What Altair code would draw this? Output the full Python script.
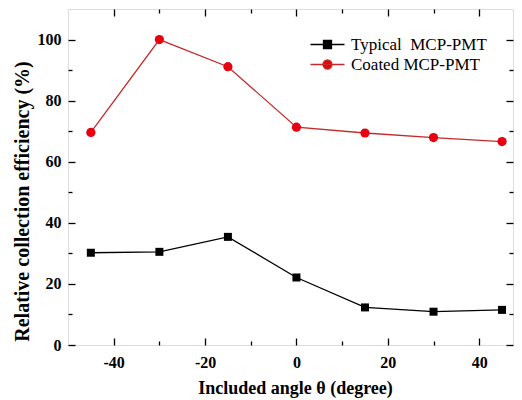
import altair as alt
import pandas as pd

# ---- data ----
angles = [-45, -30, -15, 0, 15, 30, 45]
typical = [30.2, 30.5, 35.4, 22.1, 12.3, 10.9, 11.5]
coated = [69.6, 100.0, 91.1, 71.3, 69.4, 67.9, 66.6]
series_names = ["Typical\u00a0 MCP-PMT", "Coated MCP-PMT"]
x_major = [-40, -20, 0, 20, 40]
x_minor = [-30, -10, 10, 30]
y_major = [0, 20, 40, 60, 80, 100]
y_minor = [10, 30, 50, 70, 90]
x_domain = [-50, 47.4]   # the reference frame is cropped just before +50
y_domain = [0, 110]
x_title = "Included angle θ (degree)"
y_title = "Relative collection efficiency (%)"

rows = []
for sid, vals in enumerate([typical, coated]):
    for a, v in zip(angles, vals):
        rows.append({"angle": a, "value": v, "series": series_names[sid], "sid": sid})
df = pd.DataFrame(rows)

FONT = "Liberation Serif"
LINE_RED = "#c42a2a"
MARK_RED = "#e8000f"

xs = alt.Scale(domain=x_domain, nice=False, zero=False)
ys = alt.Scale(domain=y_domain, nice=False, zero=False)


def make_axis(orient, values, size, labels=False, title=None, horizontal=True):
    kw = dict(orient=orient, values=values, tickSize=size, offset=-size,
              domain=False, grid=False, ticks=True, tickColor="black",
              tickWidth=1.3, labels=labels)
    if labels:
        kw.update(labelFont=FONT, labelFontSize=16, labelFontWeight="bold",
                  labelColor="black")
        if horizontal:
            kw.update(labelPadding=9,
                      labelExpr="datum.value < 0 ? '-' + abs(datum.value) : '' + datum.value")
        else:
            kw.update(labelPadding=7)
    if title:
        kw.update(title=title, titleFont=FONT, titleFontWeight="bold",
                  titleColor="black")
        if horizontal:
            kw.update(titleFontSize=18, titlePadding=9, titleX=227)
        else:
            kw.update(titleFontSize=20, titlePadding=5, titleY=192)
    else:
        kw["title"] = None
    return alt.Axis(**kw)


base = alt.Chart(df)

line_t = base.transform_filter(alt.datum.sid == 0).mark_line(
    color="black", strokeWidth=1.3).encode(
    x=alt.X("angle:Q", scale=xs, axis=make_axis("bottom", x_major, 7, labels=True, title=x_title)),
    y=alt.Y("value:Q", scale=ys, axis=make_axis("left", y_major, 7, labels=True, title=y_title, horizontal=False)),
)
line_c = base.transform_filter(alt.datum.sid == 1).mark_line(
    color=LINE_RED, strokeWidth=1.3).encode(
    x=alt.X("angle:Q", scale=xs, axis=make_axis("bottom", x_minor, 4)),
    y=alt.Y("value:Q", scale=ys, axis=make_axis("left", y_minor, 4, horizontal=False)),
)
pts_t = base.transform_filter(alt.datum.sid == 0).mark_point(
    shape="square", filled=True, color="black", size=64, opacity=1).encode(
    x=alt.X("angle:Q", scale=xs, axis=make_axis("top", x_major, 7)),
    y=alt.Y("value:Q", scale=ys, axis=make_axis("right", y_major, 7, horizontal=False)),
)
pts_c = base.transform_filter(alt.datum.sid == 1).mark_point(
    shape="circle", filled=True, color=MARK_RED, size=85, opacity=1).encode(
    x=alt.X("angle:Q", scale=xs, axis=make_axis("top", x_minor, 4)),
    y=alt.Y("value:Q", scale=ys, axis=make_axis("right", y_minor, 4, horizontal=False)),
)

# legend glyphs: a line through the marker (unit box = 17 px, line spans 34 px)
SQ_PATH = "M-2,0H2M-0.47,-0.47H0.47V0.47H-0.47Z"
CI_PATH = "M-2,0H2M0.53,0A0.53,0.53,0,1,1,-0.53,0A0.53,0.53,0,1,1,0.53,0Z"


def leg():
    return alt.Legend(title=None, orient="none", legendX=250, legendY=26,
                      padding=0, labelFont=FONT, labelFontSize=17,
                      labelColor="black", symbolSize=289,
                      symbolStrokeWidth=1.3, symbolOpacity=1, labelOffset=14,
                      rowPadding=2)


legend_layer = base.mark_point(filled=True, opacity=0).encode(
    x=alt.X("angle:Q", scale=xs, axis=None),
    y=alt.Y("value:Q", scale=ys, axis=None),
    color=alt.Color("series:N", scale=alt.Scale(domain=series_names, range=["black", MARK_RED]), legend=leg()),
    stroke=alt.Stroke("series:N", scale=alt.Scale(domain=series_names, range=["black", LINE_RED]), legend=leg()),
    shape=alt.Shape("series:N", scale=alt.Scale(domain=series_names, range=[SQ_PATH, CI_PATH]), legend=leg()),
)

chart = alt.layer(line_t, line_c, pts_t, pts_c, legend_layer).resolve_axis(
    x="independent", y="independent"
).properties(
    width=506, height=390,
    autosize=alt.AutoSizeParams(type="fit", contains="padding"),
    padding={"left": 4, "top": 0, "right": 0, "bottom": 1},
).configure_view(stroke="black", strokeWidth=1.5).configure(background="white")

chart.save("out.html", embed_options={"renderer": "svg", "actions": False})
